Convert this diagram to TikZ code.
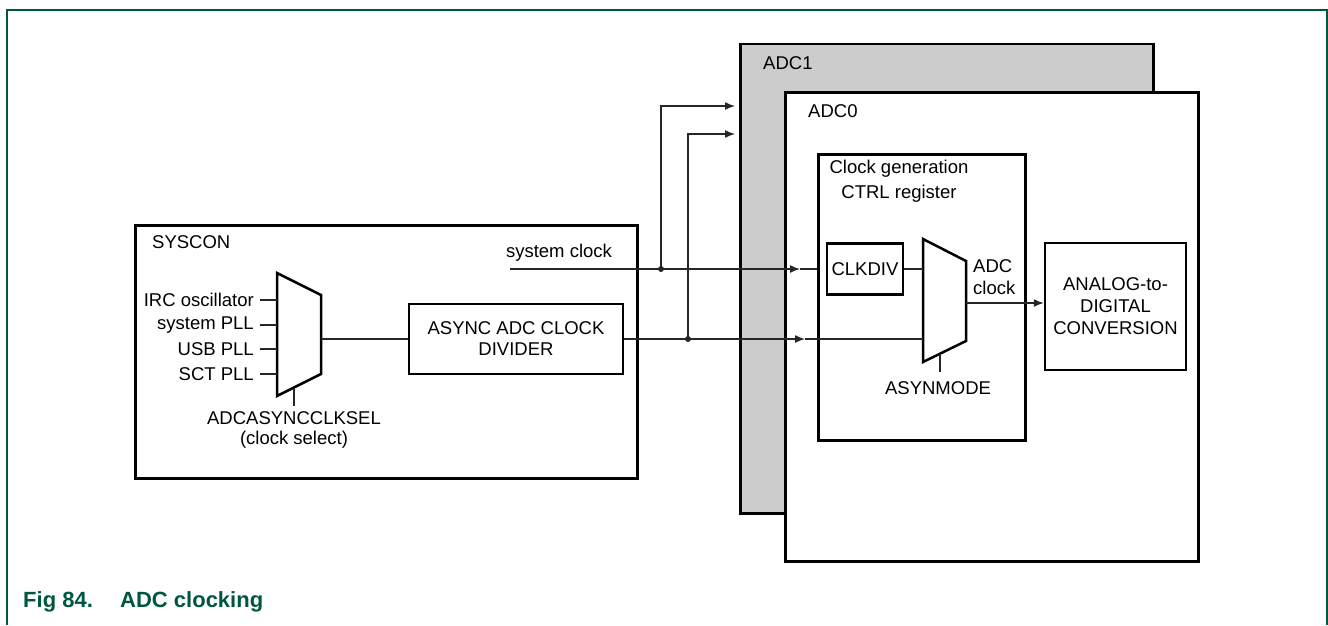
\documentclass[tikz,border=0pt]{standalone}
\usepackage{fontspec}
\setmainfont{Liberation Sans}
\usepackage{tikz}
\usetikzlibrary{arrows.meta, calc, positioning}
\definecolor{rahmen}{HTML}{00573F}
\definecolor{grau}{HTML}{CCCCCC}
\definecolor{linie}{HTML}{262626}

\begin{document}
\begin{tikzpicture}[
        x=1pt, y=-1pt,
        every node/.style={font=\fontsize{18.5}{22}\selectfont, inner sep=0pt},
        box/.style={draw, line width=2.5pt, fill=white},
        sig/.style={draw=linie, line width=1.4pt},
        pfeil/.style={sig, -{Latex[length=10pt, width=8pt]}},
      ]
      \useasboundingbox (0,0) rectangle (1328,625);

      % Rahmen und Bildunterschrift
      \draw[rahmen, line width=2pt] (6.5,625) -- (6.5,9.5) -- (1326.5,9.5) -- (1326.5,625);
      \node[anchor=base west, text=rahmen, font=\fontsize{22}{26}\selectfont\bfseries]
        (titel) at (23,607.5) {\makebox[97pt][l]{Fig 84.}ADC clocking};

      % SYSCON
      \node[box, anchor=north west, minimum width=502, minimum height=253] (syscon) at (134,224) {};
      \node[anchor=west] (sysconText) at (152,242) {SYSCON};

      % Taktauswahl (Mux links)
      \draw[box] (277,273) -- (321,295) -- (321,374) -- (277,396) -- cycle;
      \foreach \y/\txt [count=\i] in {300/IRC oscillator, 325/system PLL, 349/USB PLL, 374/SCT PLL} {
        \coordinate (muxAin\i) at (277,\y);
        \node[anchor=east, inner xsep=6pt] (quelle\i) at (260,\y) {\txt};
        \draw[sig] (quelle\i) -- (muxAin\i);
      }
      \coordinate (muxAsel) at (294,387.5);
      \coordinate (muxAout) at (321,339);
      \draw[sig] (muxAsel) -- ++(0,18);
      \node[anchor=north, align=center, font=\fontsize{18.5}{20}\selectfont]
        (selText) at (294,411) {ADCASYNCCLKSEL\\(clock select)};

      % Teiler
      \node[box, minimum width=214, minimum height=70, align=center, font=\fontsize{18.5}{21}\selectfont]
        (async) at (516,339) {ASYNC ADC CLOCK\\DIVIDER};
      \draw[sig] (muxAout) -- (async.west |- muxAout);

      % ADC1 / ADC0
      \node[box, fill=grau, anchor=north west, minimum width=413, minimum height=469.5] (adc1) at (739,42.5) {};
      \node[anchor=west] (adc1Text) at (763,63) {ADC1};
      \node[box, anchor=north west, minimum width=413, minimum height=469] (adc0) at (784,91) {};
      \node[anchor=west] (adc0Text) at (808,111) {ADC0};

      % Taktgenerierung
      \node[box, anchor=north west, minimum width=207, minimum height=286] (taktgen) at (817,153) {};
      \node[align=center, font=\fontsize{18.5}{25}\selectfont] (taktgenText) at (899,181)
        {Clock generation\\CTRL register};
      \node[box, minimum width=76, minimum height=51] (clkdiv) at (865,269) {CLKDIV};
      \draw[box] (923,239) -- (966,261) -- (966,341) -- (923,362) -- cycle;
      \coordinate (muxBin1) at (923,269);
      \coordinate (muxBin2) at (923,339);
      \coordinate (muxBsel) at (940,353.7);
      \coordinate (muxBout) at (966,303);
      \draw[sig] (muxBsel) -- ++(0,18);
      \node (asynText) at (938,388) {ASYNMODE};
      \node[anchor=west, align=left] (adcclkText) at (973,277) {ADC\\clock};
      \node[box, minimum width=141, minimum height=127, align=center] (wandler) at (1115.5,306.5)
        {ANALOG-to-\\DIGITAL\\CONVERSION};

      % Signale
      \coordinate (sysStart) at (510,269);
      \node (sysText) at (559,253) {system clock};
      \coordinate (j1) at (661,269);
      \coordinate (j2) at (688,339);
      \coordinate (pSys) at (800,269);
      \coordinate (pAsync) at (805,339);
      \coordinate (in1) at (735,106);
      \coordinate (in2) at (735,134);
      \draw[pfeil] (sysStart) -- (pSys);
      \draw[sig] (pSys) -- (taktgen.west |- pSys);
      \draw[sig] (clkdiv) -- (muxBin1);
      \draw[pfeil] (async) -- (pAsync);
      \draw[sig] (pAsync) -- (muxBin2);
      \draw[pfeil] (j1) |- (in1);
      \draw[pfeil] (j2) |- (in2);
      \fill[linie] (j1) circle (3) (j2) circle (3);
      \draw[pfeil] (muxBout) -- (wandler.west |- muxBout);
    \end{tikzpicture}
\end{document}
